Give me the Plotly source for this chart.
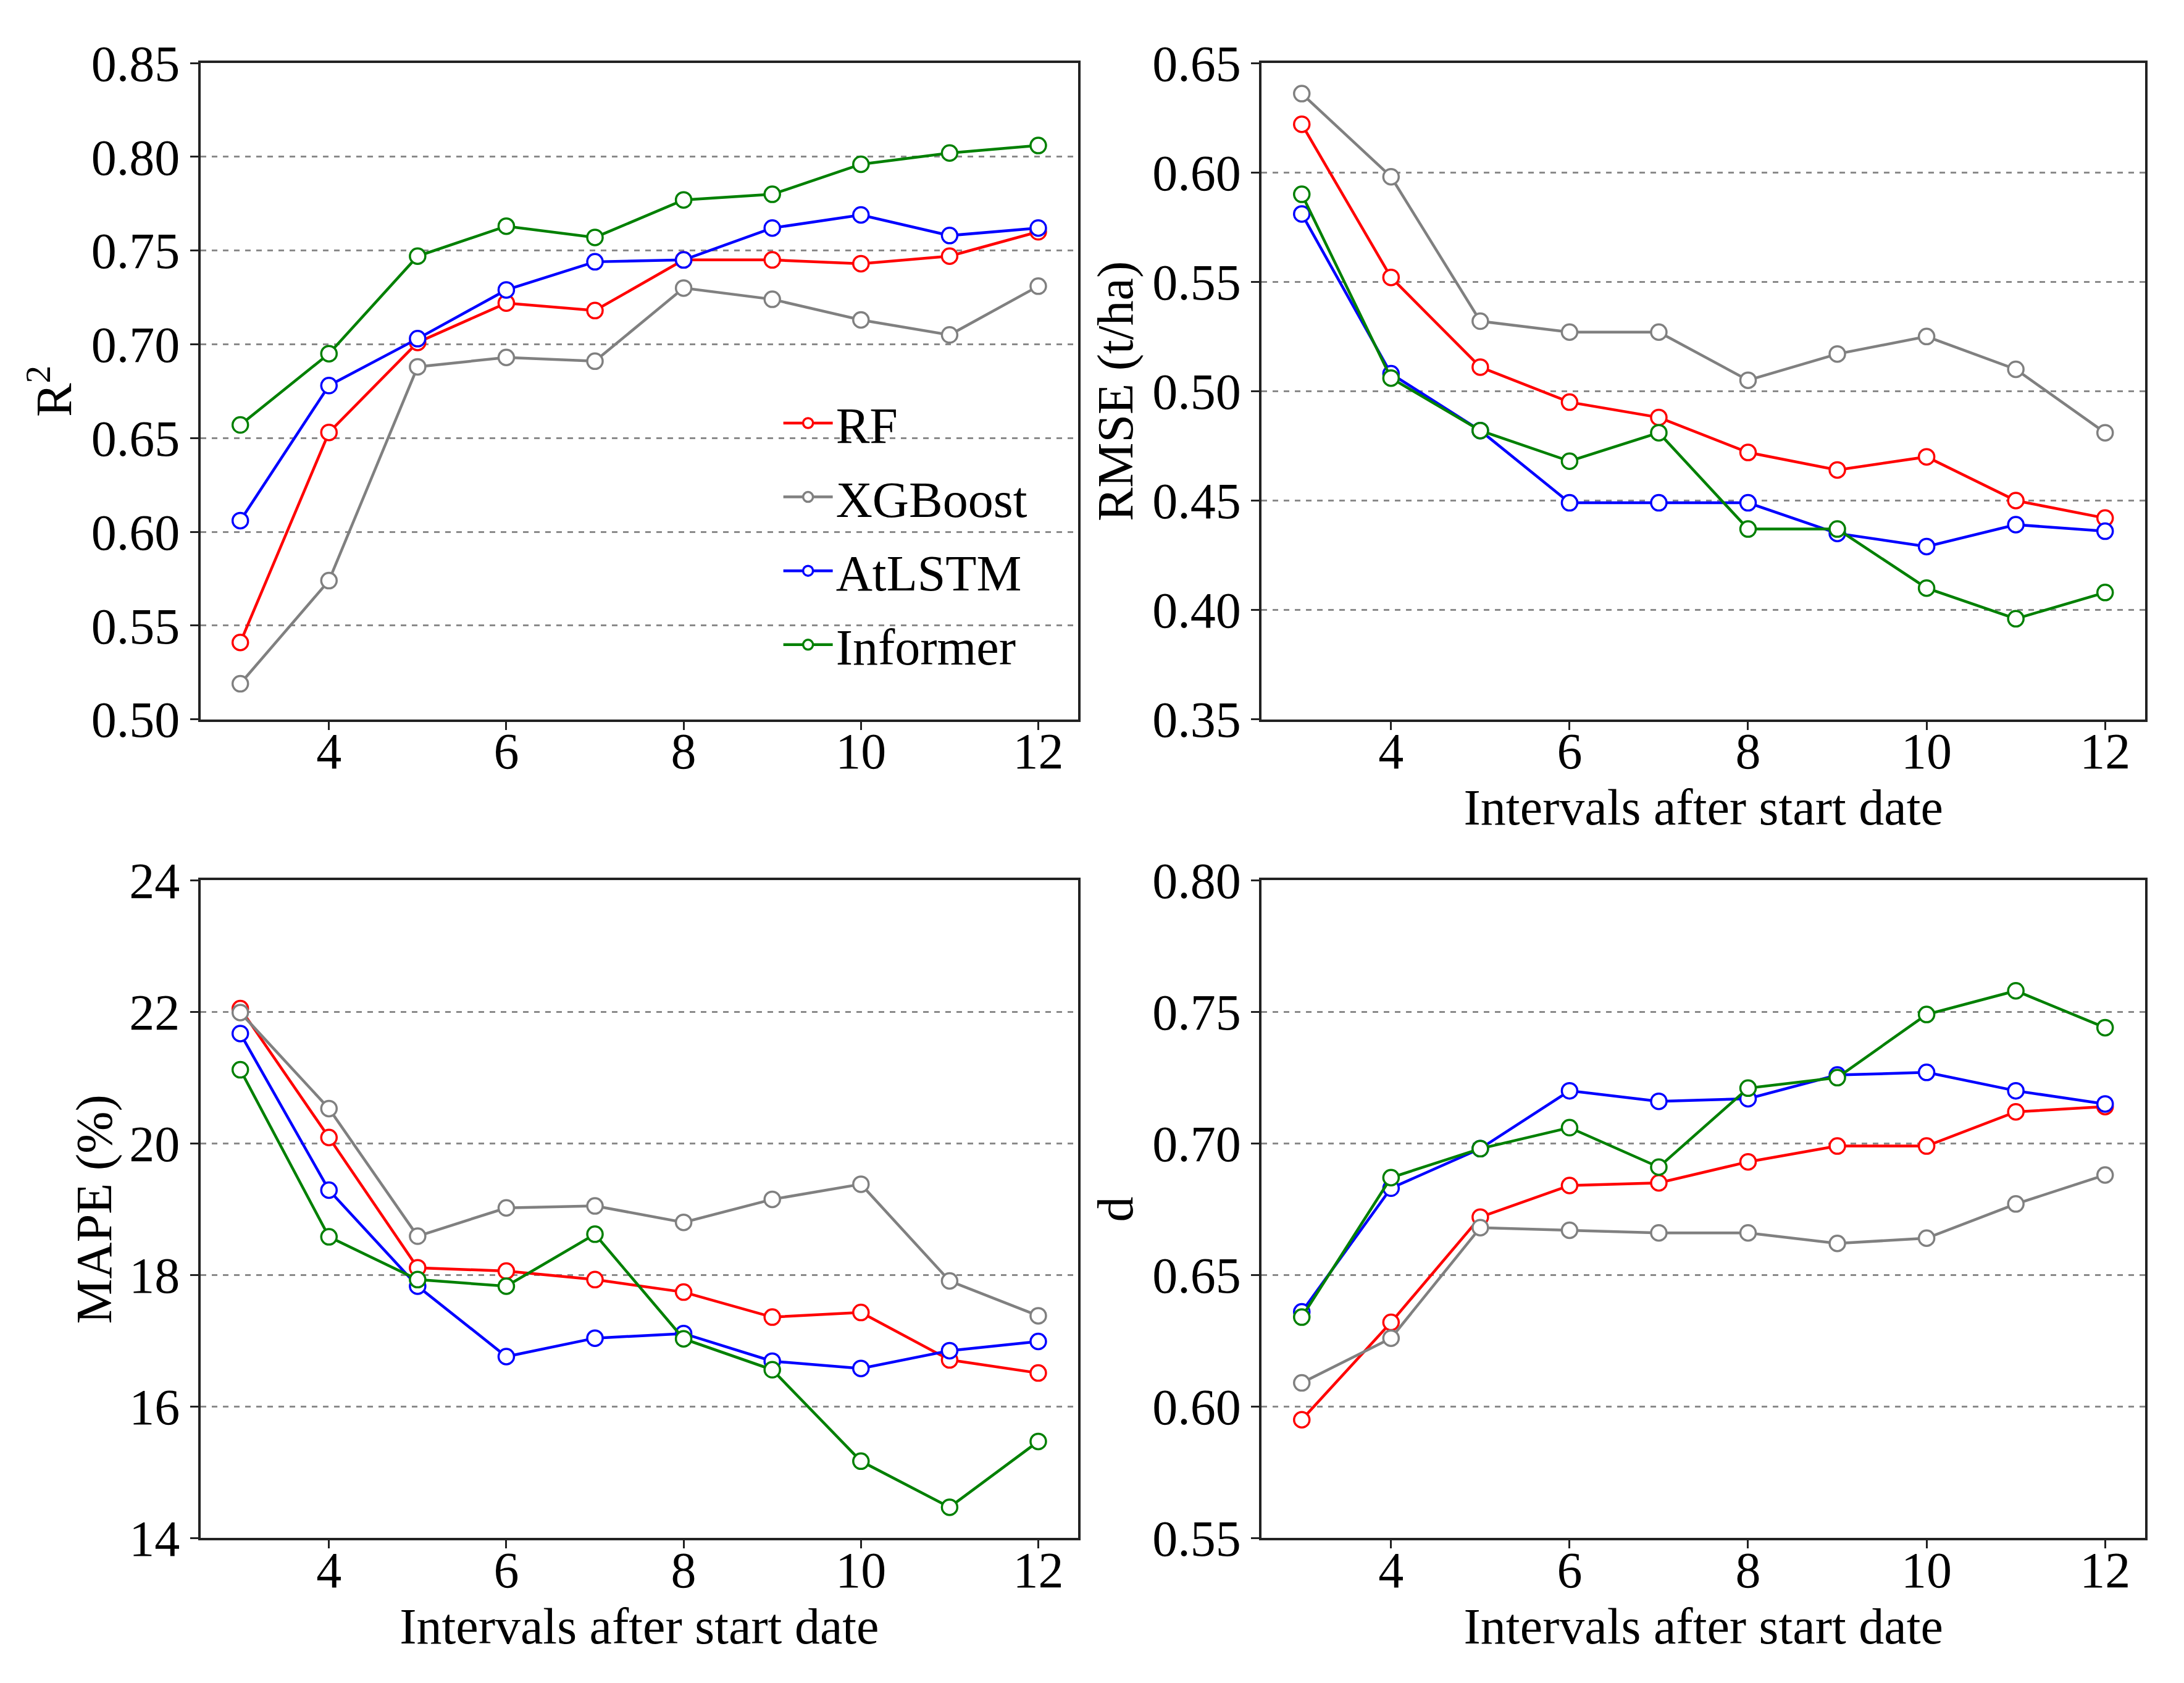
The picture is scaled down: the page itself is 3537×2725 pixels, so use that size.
import plotly.graph_objects as go
from plotly.subplots import make_subplots

# Intervals after start date
intervals = [3, 4, 5, 6, 7, 8, 9, 10, 11, 12]

models = ["RF", "XGBoost", "AtLSTM", "Informer"]
colors = {"RF": "red", "XGBoost": "gray", "AtLSTM": "blue", "Informer": "green"}

# R2
r2_rf = [0.541, 0.653, 0.701, 0.722, 0.718, 0.745, 0.745, 0.743, 0.747, 0.760]
r2_xgb = [0.519, 0.574, 0.688, 0.693, 0.691, 0.730, 0.724, 0.713, 0.705, 0.731]
r2_atlstm = [0.606, 0.678, 0.703, 0.729, 0.744, 0.745, 0.762, 0.769, 0.758, 0.762]
r2_informer = [0.657, 0.695, 0.747, 0.763, 0.757, 0.777, 0.780, 0.796, 0.802, 0.806]

# RMSE (t/ha)
rmse_rf = [0.622, 0.552, 0.511, 0.495, 0.488, 0.472, 0.464, 0.470, 0.450, 0.442]
rmse_xgb = [0.636, 0.598, 0.532, 0.527, 0.527, 0.505, 0.517, 0.525, 0.510, 0.481]
rmse_atlstm = [0.581, 0.508, 0.482, 0.449, 0.449, 0.449, 0.435, 0.429, 0.439, 0.436]
rmse_informer = [0.590, 0.506, 0.482, 0.468, 0.481, 0.437, 0.437, 0.410, 0.396, 0.408]

# MAPE (%)
mape_rf = [22.05, 20.09, 18.11, 18.06, 17.93, 17.74, 17.36, 17.43, 16.71, 16.51]
mape_xgb = [21.99, 20.53, 18.59, 19.02, 19.05, 18.80, 19.15, 19.38, 17.91, 17.38]
mape_atlstm = [21.67, 19.29, 17.83, 16.76, 17.04, 17.11, 16.69, 16.58, 16.85, 16.99]
mape_informer = [21.12, 18.58, 17.93, 17.83, 18.62, 17.03, 16.56, 15.17, 14.47, 15.47]

# d (index of agreement)
d_rf = [0.595, 0.632, 0.672, 0.684, 0.685, 0.693, 0.699, 0.699, 0.712, 0.714]
d_xgb = [0.609, 0.626, 0.668, 0.667, 0.666, 0.666, 0.662, 0.664, 0.677, 0.688]
d_atlstm = [0.636, 0.683, 0.698, 0.720, 0.716, 0.717, 0.726, 0.727, 0.720, 0.715]
d_informer = [0.634, 0.687, 0.698, 0.706, 0.691, 0.721, 0.725, 0.749, 0.758, 0.744]

panels = [
    ("R<sup>2</sup>", [r2_rf, r2_xgb, r2_atlstm, r2_informer], [0.50, 0.85], 0.05, ".2f", None, 6),
    ("RMSE (t/ha)", [rmse_rf, rmse_xgb, rmse_atlstm, rmse_informer], [0.35, 0.65], 0.05, ".2f",
     "Intervals after start date", 6),
    ("MAPE (%)", [mape_rf, mape_xgb, mape_atlstm, mape_informer], [14, 24], 2, "d",
     "Intervals after start date", 2),
    ("d", [d_rf, d_xgb, d_atlstm, d_informer], [0.55, 0.80], 0.05, ".2f",
     "Intervals after start date", 6),
]

x_domains = [[0.0895, 0.4914], [0.5754, 0.9800]]
y_domains = [[0.5755, 0.9655], [0.0890, 0.4799]]

FONT = "Liberation Serif, Times New Roman, serif"
FS = 82
AX = "#222222"

fig = make_subplots(rows=2, cols=2)

for i, (ylabel, series, yrange, dtick, fmt, xtitle, ystandoff) in enumerate(panels):
    row, col = i // 2 + 1, i % 2 + 1
    for name, vals in zip(models, series):
        fig.add_trace(
            go.Scatter(
                x=intervals, y=vals, mode="lines+markers", name=name,
                line=dict(color=colors[name], width=4.5),
                marker=dict(symbol="circle", size=25, color="white",
                            line=dict(color=colors[name], width=3.5)),
                legendgroup=name, showlegend=(i == 0),
            ),
            row=row, col=col,
        )
    xt = dict(text=xtitle, font=dict(size=FS, family=FONT, color="black"), standoff=12) if xtitle else None
    fig.update_xaxes(
        domain=x_domains[col - 1], range=[2.55, 12.45],
        tickvals=[4, 6, 8, 10, 12], title=xt,
        row=row, col=col,
    )
    fig.update_yaxes(
        domain=y_domains[row - 1], range=yrange, dtick=dtick, tickformat=fmt,
        showgrid=True, gridcolor="#8a8a8a", gridwidth=2.5, griddash="dash",
        title=dict(text=ylabel, font=dict(size=FS, family=FONT, color="black"), standoff=ystandoff),
        row=row, col=col,
    )

fig.update_xaxes(showgrid=False, zeroline=False, showline=True, mirror=True,
                 linecolor=AX, linewidth=4, ticks="outside", ticklen=13,
                 tickwidth=3, tickcolor=AX, automargin=False, ticklabelstandoff=-36,
                 tickfont=dict(size=FS, family=FONT, color="black"))
fig.update_yaxes(zeroline=False, showline=True, mirror=True,
                 linecolor=AX, linewidth=4, ticks="outside", ticklen=13,
                 tickwidth=3, tickcolor=AX, automargin=False,
                 tickfont=dict(size=FS, family=FONT, color="black"))

fig.update_layout(
    width=3537, height=2725,
    margin=dict(l=0, r=0, t=0, b=0, autoexpand=False),
    paper_bgcolor="white", plot_bgcolor="white",
    font=dict(family=FONT, size=FS, color="black"),
    showlegend=True,
    legend=dict(x=0.355, y=0.7735, xanchor="left", yanchor="top",
                bgcolor="rgba(0,0,0,0)", itemwidth=80,
                font=dict(size=FS, family=FONT, color="black")),
)

fig.write_html("out.html")
